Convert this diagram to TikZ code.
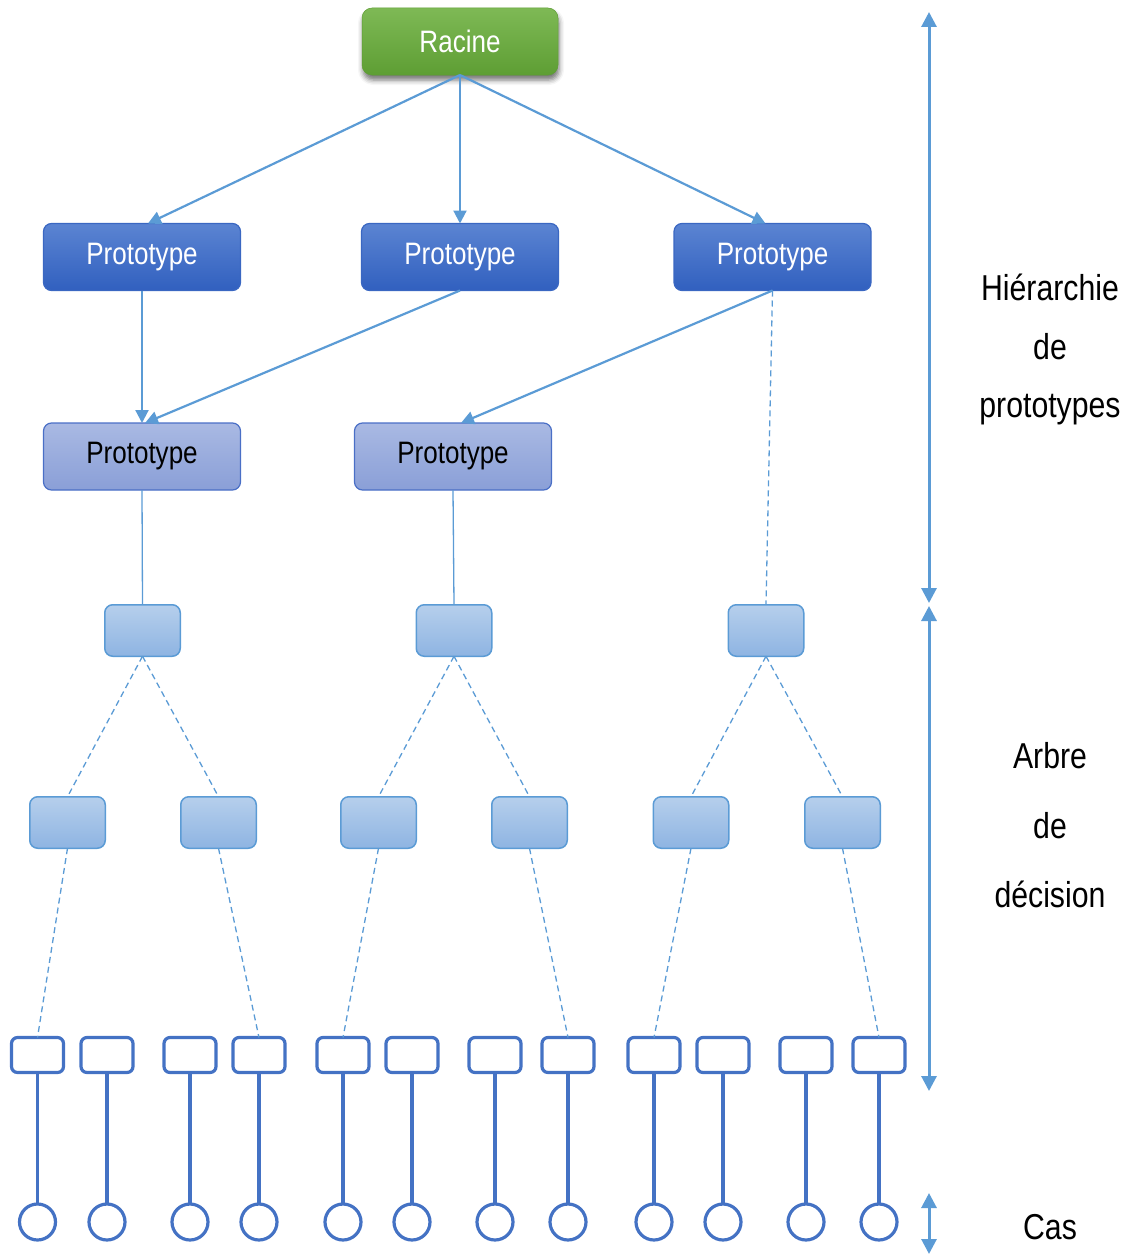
\documentclass[tikz,border=0pt]{standalone}
\usepackage{fontspec}
\setmainfont{Liberation Sans}[FakeStretch=0.84]
\usetikzlibrary{arrows.meta,shadows.blur}

\definecolor{rootTop}{HTML}{7EB955}
\definecolor{rootBot}{HTML}{5E9E34}
\definecolor{pATop}{HTML}{5B84D2}
\definecolor{pABot}{HTML}{3160BF}
\definecolor{pABorder}{HTML}{3A67C2}
\definecolor{pBTop}{HTML}{A9B9E3}
\definecolor{pBBot}{HTML}{8A9FD7}
\definecolor{pBBorder}{HTML}{4A6FC6}
\definecolor{nTop}{HTML}{B6CFEC}
\definecolor{nBot}{HTML}{8EB4E2}
\definecolor{link}{HTML}{5B9BD5}
\definecolor{leafblue}{HTML}{4472C4}

\newcommand{\boxfont}{\fontsize{31}{37}\selectfont}
\newcommand{\sidefont}{\fontsize{36}{43}\selectfont}

\begin{document}
\begin{tikzpicture}[x=1pt,y=-1pt,
  every node/.style={inner sep=0pt, outer sep=0pt},
  rootbox/.style={rounded corners=10pt, minimum width=196pt, minimum height=67pt,
    top color=rootTop, bottom color=rootBot, draw=rootBot, line width=0.5pt,
    text=white, font=\boxfont,
    blur shadow={shadow xshift=1pt, shadow yshift=-5pt, shadow blur radius=5pt, shadow opacity=55}},
  protoA/.style={rounded corners=8pt, minimum width=197pt, minimum height=67pt,
    top color=pATop, bottom color=pABot, draw=pABorder, line width=1.2pt,
    text=white, font=\boxfont},
  protoB/.style={rounded corners=8pt, minimum width=197pt, minimum height=67pt,
    top color=pBTop, bottom color=pBBot, draw=pBBorder, line width=1.2pt,
    text=black, font=\boxfont},
  nodebox/.style={rounded corners=8pt, minimum width=75.5pt, minimum height=51.5pt,
    top color=nTop, bottom color=nBot, draw=link, line width=1.5pt},
  leafbox/.style={rounded corners=6pt, minimum width=52pt, minimum height=35pt,
    draw=leafblue, line width=3.2pt, fill=white},
  casecircle/.style={circle, minimum size=36pt, draw=leafblue, line width=3.2pt, fill=white},
  arrowlink/.style={draw=link, line width=2.2pt, -{Triangle[length=13pt,width=13pt]}},
  plainlink/.style={draw=link, line width=1.3pt},
  dashlink/.style={draw=link, line width=1.3pt, dash pattern=on 6pt off 4pt},
  caselink/.style={draw=leafblue, line width=3.2pt},
  scalearrow/.style={draw=link, line width=3pt,
    {Triangle[length=15pt,width=15pt]}-{Triangle[length=15pt,width=15pt]}},
  sidetext/.style={font=\sidefont, anchor=base, text=black}]

\useasboundingbox (0,0) rectangle (1129,1255);

% prototype hierarchy
\node[rootbox] (root) at (460,41.5) {Racine};
\node[protoA] (pA) at (142,257) {Prototype};
\node[protoA] (pB) at (460,257) {Prototype};
\node[protoA] (pC) at (772.5,257) {Prototype};
\node[protoB] (pD) at (142,456.5) {Prototype};
\node[protoB] (pE) at (453,456.5) {Prototype};

% decision tree nodes
\node[nodebox] (n1) at (142.5,630.5) {};
\node[nodebox] (n2) at (454,630.5) {};
\node[nodebox] (n3) at (766,630.5) {};
\foreach \x [count=\i] in {67.5,218.5,378.5,529.5,691,842.5}
  \node[nodebox] (m\i) at (\x,822.5) {};

% leaves and cases
\foreach \x [count=\i] in {37.5,107,190,259,343,412,495,568,654,723,806,879}{
  \node[leafbox] (l\i) at (\x,1055) {};
  \node[casecircle] (c\i) at (\x,1222) {};
  \draw[caselink] (l\i.south) -- (c\i.north);
}

% hierarchy links
\draw[arrowlink] (root.south) -- ([xshift=6pt]pA.north);
\draw[arrowlink] (root.south) -- (pB.north);
\draw[arrowlink] (root.south) -- ([xshift=-7pt]pC.north);
\draw[arrowlink] (pA.south) -- (pD.north);
\draw[arrowlink] (pB.south) -- ([xshift=3pt]pD.north);
\draw[arrowlink] (pC.south) -- ([xshift=8pt]pE.north);
\draw[dashlink] (pC.south) -- (n3.north);
\draw[plainlink] (pD.south) -- (n1.north);
\draw[plainlink] (pE.south) -- (n2.north);

% tree links
\draw[dashlink] (n1.south) -- (m1.north);
\draw[dashlink] (n1.south) -- (m2.north);
\draw[dashlink] (n2.south) -- (m3.north);
\draw[dashlink] (n2.south) -- (m4.north);
\draw[dashlink] (n3.south) -- (m5.north);
\draw[dashlink] (n3.south) -- (m6.north);
\draw[dashlink] (m1.south) -- (l1.north);
\draw[dashlink] (m2.south) -- (l4.north);
\draw[dashlink] (m3.south) -- (l5.north);
\draw[dashlink] (m4.south) -- (l8.north);
\draw[dashlink] (m5.south) -- (l9.north);
\draw[dashlink] (m6.south) -- (l12.north);

% level scale on the right
\coordinate (s1) at (929,12);
\coordinate (s2) at (929,603);
\coordinate (s3) at (929,606);
\coordinate (s4) at (929,1091);
\coordinate (s5) at (929,1193);
\coordinate (s6) at (929,1254);
\draw[scalearrow] (s1) -- (s2);
\draw[scalearrow] (s3) -- (s4);
\draw[scalearrow] (s5) -- (s6);

\node[sidetext] (h1) at (1050,300) {Hiérarchie};
\node[sidetext] (h2) at (1050,359) {de};
\node[sidetext] (h3) at (1050,417) {prototypes};
\node[sidetext] (t1) at (1050,768) {Arbre};
\node[sidetext] (t2) at (1050,838) {de};
\node[sidetext] (t3) at (1050,907) {décision};
\node[sidetext] (k1) at (1050,1239) {Cas};
\end{tikzpicture}
\end{document}
